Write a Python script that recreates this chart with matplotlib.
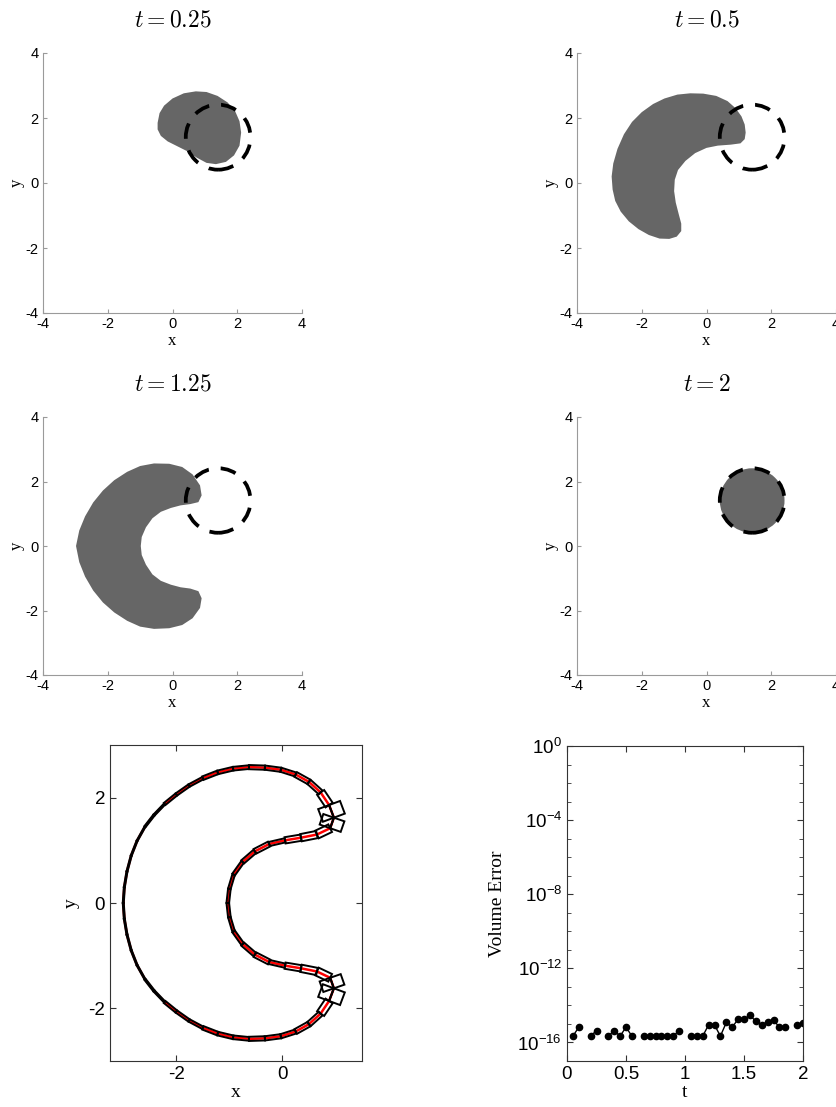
import matplotlib
matplotlib.use("Agg")
import matplotlib.pyplot as plt
import numpy as np
from matplotlib.patches import Circle, Polygon
from matplotlib.ticker import FixedLocator, FuncFormatter, NullFormatter

plt.rcParams["font.family"] = ["Liberation Sans", "DejaVu Sans"]
plt.rcParams["axes.unicode_minus"] = False
SERIF = ["Liberation Serif", "DejaVu Serif"]
FILL = "#666666"
GREY_AX = "#9a9a9a"

# initial / final circle
circle_center = (1.41, 1.41)
circle_radius = 1.0

snapshot_titles = ["0.25", "0.5", "1.25", "2"]

# deformed body outlines
blob_t025 = [
    (-0.46, 1.85), (-0.40, 2.15), (-0.26, 2.38), (0.00, 2.60), (0.35, 2.76),
    (0.72, 2.82), (1.05, 2.80), (1.39, 2.68), (1.70, 2.48), (1.93, 2.22),
    (2.07, 1.90), (2.12, 1.55), (2.07, 1.15), (1.90, 0.85), (1.65, 0.65),
    (1.34, 0.58), (1.05, 0.62), (0.75, 0.78), (0.45, 0.98), (0.15, 1.13),
    (-0.15, 1.28), (-0.36, 1.45), (-0.46, 1.65),
]
crescent_t05 = [
    (1.21, 1.55), (1.18, 1.80), (1.08, 2.05), (0.90, 2.30), (0.65, 2.52),
    (0.30, 2.68), (-0.10, 2.75), (-0.50, 2.76), (-0.90, 2.72), (-1.30, 2.60),
    (-1.65, 2.43), (-2.00, 2.18), (-2.30, 1.88), (-2.55, 1.50), (-2.75, 1.05),
    (-2.88, 0.60), (-2.93, 0.20), (-2.90, -0.20), (-2.82, -0.55), (-2.65, -0.88),
    (-2.40, -1.18), (-2.10, -1.42), (-1.78, -1.60), (-1.45, -1.71), (-1.15, -1.72),
    (-0.92, -1.65), (-0.78, -1.48), (-0.78, -1.25), (-0.86, -0.95), (-0.95, -0.60),
    (-1.00, -0.25), (-0.98, 0.10), (-0.88, 0.40), (-0.65, 0.68), (-0.35, 0.92),
    (0.00, 1.08), (0.35, 1.15), (0.75, 1.18), (1.05, 1.22), (1.18, 1.35),
]
crescent_t125 = [
    (0.90, 1.57), (0.85, 1.88), (0.62, 2.22), (0.30, 2.45), (-0.10, 2.55),
    (-0.57, 2.56), (-1.00, 2.48), (-1.40, 2.30), (-1.80, 2.04), (-2.15, 1.72),
    (-2.45, 1.35), (-2.70, 0.92), (-2.88, 0.48), (-2.98, 0.00), (-2.88, -0.50),
    (-2.70, -0.95), (-2.45, -1.38), (-2.15, -1.75), (-1.80, -2.06), (-1.40, -2.32),
    (-1.00, -2.50), (-0.57, -2.57), (-0.10, -2.55), (0.30, -2.45), (0.62, -2.24),
    (0.85, -1.92), (0.90, -1.62), (0.80, -1.40), (0.55, -1.32), (0.25, -1.28),
    (-0.05, -1.20), (-0.36, -1.08), (-0.62, -0.88), (-0.82, -0.58), (-0.95, -0.28),
    (-0.98, 0.00), (-0.95, 0.28), (-0.82, 0.58), (-0.62, 0.86), (-0.36, 1.06),
    (-0.05, 1.18), (0.25, 1.26), (0.55, 1.30), (0.80, 1.36),
]

# reconstructed interface (upper half, lower half is its mirror image)
interface_upper = [
    (-3.00, 0.00), (-2.98, 0.30), (-2.93, 0.60), (-2.85, 0.90), (-2.74, 1.18),
    (-2.59, 1.45), (-2.42, 1.67), (-2.22, 1.88), (-2.00, 2.06), (-1.76, 2.23),
    (-1.50, 2.37), (-1.22, 2.48), (-0.93, 2.55), (-0.63, 2.58), (-0.33, 2.57),
    (-0.03, 2.53), (0.25, 2.44), (0.50, 2.30), (0.72, 2.10), (0.88, 1.86),
    (0.97, 1.62), (0.90, 1.42), (0.65, 1.30), (0.35, 1.24), (0.05, 1.19),
    (-0.25, 1.12), (-0.52, 0.98), (-0.75, 0.78), (-0.92, 0.54), (-1.00, 0.27),
    (-1.03, 0.00),
]
# cell thickness normal to the interface, one per segment of interface_upper
box_thickness_upper = [
    0.02, 0.02, 0.02, 0.02, 0.02, 0.03, 0.03, 0.05, 0.05, 0.05,
    0.07, 0.07, 0.07, 0.08, 0.08, 0.08, 0.10, 0.10, 0.16, 0.22,
    0.21, 0.16, 0.14, 0.12, 0.08, 0.10, 0.08, 0.06, 0.05, 0.05,
]

# volume error history (nan = exactly zero, not shown on log axis)
vol_t = [0.05, 0.10, 0.15, 0.20, 0.25, 0.30, 0.35, 0.40, 0.45, 0.50,
         0.55, 0.60, 0.65, 0.70, 0.75, 0.80, 0.85, 0.90, 0.95, 1.00,
         1.05, 1.10, 1.15, 1.20, 1.25, 1.30, 1.35, 1.40, 1.45, 1.50,
         1.55, 1.60, 1.65, 1.70, 1.75, 1.80, 1.85, 1.90, 1.95, 2.00]
vol_err = [2.2e-16, 6.7e-16, np.nan, 2.2e-16, 4.4e-16, np.nan, 2.2e-16, 4.4e-16, 2.2e-16, 6.7e-16,
           2.2e-16, np.nan, 2.2e-16, 2.2e-16, 2.2e-16, 2.2e-16, 2.2e-16, 2.2e-16, 4.4e-16, np.nan,
           2.2e-16, 2.2e-16, 2.2e-16, 8.9e-16, 8.9e-16, 2.2e-16, 1.2e-15, 6.7e-16, 1.8e-15, 1.8e-15,
           2.9e-15, 1.4e-15, 8.9e-16, 1.3e-15, 1.6e-15, 6.7e-16, 6.7e-16, np.nan, 8.9e-16, 1.1e-15]


def px_axes(fig, left, top, right, bottom):
    W, H = 836.0, 1107.0
    return fig.add_axes([left / W, 1 - bottom / H, (right - left) / W, (bottom - top) / H])


def style_snapshot(ax):
    ax.set_xlim(-4, 4)
    ax.set_ylim(-4, 4)
    ax.set_xticks([-4, -2, 0, 2, 4])
    ax.set_yticks([-4, -2, 0, 2, 4])
    for s in ("top", "right"):
        ax.spines[s].set_visible(False)
    for s in ("left", "bottom"):
        ax.spines[s].set_color(GREY_AX)
        ax.spines[s].set_linewidth(0.8)
    ax.tick_params(direction="in", length=3, color=GREY_AX, labelsize=10.5, pad=3)
    ax.set_xlabel("x", family=SERIF, fontsize=12, labelpad=1)
    ax.set_ylabel("y", family=SERIF, fontsize=12, labelpad=1)


def style_box(ax):
    for s in ax.spines.values():
        s.set_color("#333333")
        s.set_linewidth(0.8)
    ax.tick_params(which="both", direction="in", top=True, right=True,
                   color="#333333", labelsize=13.5)


fig = plt.figure(figsize=(8.36, 11.07), dpi=100)

snap_axes = [
    px_axes(fig, 43, 53, 302, 313),
    px_axes(fig, 577, 53, 836, 313),
    px_axes(fig, 43, 417, 302, 675),
    px_axes(fig, 577, 417, 836, 675),
]
bodies = [blob_t025, crescent_t05, crescent_t125, None]
for ax, title, body in zip(snap_axes, snapshot_titles, bodies):
    style_snapshot(ax)
    if body is None:
        ax.add_patch(Circle(circle_center, circle_radius, facecolor=FILL, edgecolor="none"))
    else:
        ax.add_patch(Polygon(body, closed=True, facecolor=FILL, edgecolor="none"))
    ax.add_patch(Circle(circle_center, circle_radius, facecolor="none", edgecolor="black",
                        lw=2.7, linestyle=(0, (4.2, 3.2)), zorder=4))
    ax.set_title("$t = " + title + "$", math_fontfamily="cm", fontsize=17, pad=19)

# interface reconstruction
ax5 = px_axes(fig, 110, 745, 362, 1061)
upper = np.array(interface_upper)
lower = upper[::-1][1:] * np.array([1, -1])
outline = np.vstack([upper, lower])
thick = list(box_thickness_upper) + list(box_thickness_upper[::-1])

ax5.plot(outline[:, 0], outline[:, 1], color="red", lw=1.8, zorder=2)
for i in range(len(outline) - 1):
    p0, p1 = outline[i], outline[i + 1]
    d = p1 - p0
    n = np.array([-d[1], d[0]]) / np.hypot(*d)
    h = thick[i]
    layers = [(-h, 0.0), (0.0, h)] if h >= 0.2 else [(-h / 2, h / 2)]
    for a, b in layers:
        quad = [p0 + n * a, p1 + n * a, p1 + n * b, p0 + n * b]
        ax5.add_patch(Polygon(quad, closed=True, facecolor="none", edgecolor="black",
                              lw=1.4, zorder=3))
ax5.set_xlim(-3.25, 1.5)
ax5.set_ylim(-3, 3)
ax5.set_xticks([-2, 0])
ax5.set_yticks([-2, 0, 2])
style_box(ax5)
ax5.tick_params(length=4)
ax5.set_xlabel("x", family=SERIF, fontsize=14, labelpad=1)
ax5.set_ylabel("y", family=SERIF, fontsize=14, labelpad=6)

# volume error
ax6 = px_axes(fig, 567, 746, 803, 1061)
ax6.plot(vol_t, vol_err, color="black", lw=1.0, marker="o", ms=4.5)
ax6.set_yscale("log")
ax6.set_xlim(0, 2)
ax6.set_ylim(1e-17, 1)
ax6.yaxis.set_major_locator(FixedLocator([1e-16, 1e-12, 1e-8, 1e-4, 1e0]))
ax6.yaxis.set_minor_locator(FixedLocator([10.0 ** k for k in range(-17, 1)]))
ax6.yaxis.set_minor_formatter(NullFormatter())
ax6.yaxis.set_major_formatter(
    FuncFormatter(lambda v, p: r"$\mathdefault{10^{%d}}$" % round(np.log10(v))))
ax6.set_xticks([0, 0.5, 1, 1.5, 2])
ax6.set_xticklabels(["0", "0.5", "1", "1.5", "2"])
style_box(ax6)
ax6.tick_params(which="major", length=4)
ax6.tick_params(which="minor", length=3)
ax6.set_xlabel("t", family=SERIF, fontsize=14, labelpad=1)
ax6.set_ylabel("Volume Error", family=SERIF, fontsize=14, labelpad=8)

fig.savefig("out.png", dpi=100)
